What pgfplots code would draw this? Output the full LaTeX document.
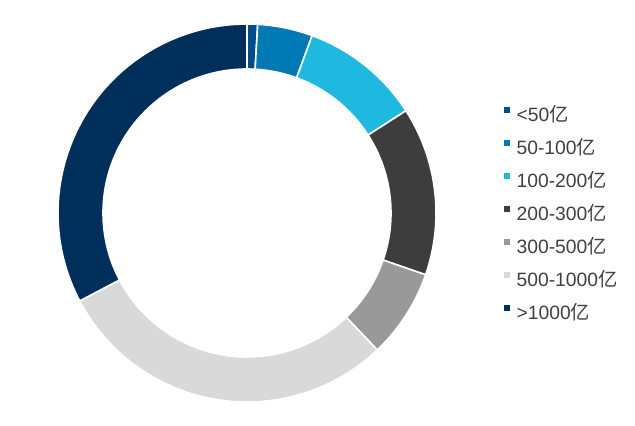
\documentclass[border=0pt]{standalone}
\usepackage{pgfplots}
\pgfplotsset{compat=1.18}
\usepackage{pgfplotstable}
\usepackage{fontspec}
\setmainfont{Liberation Sans}
\newfontfamily\cjk{Noto Sans CJK SC}

\definecolor{c0}{HTML}{004C8C}
\definecolor{c1}{HTML}{0079B4}
\definecolor{c2}{HTML}{1FB9E0}
\definecolor{c3}{HTML}{3D3D3D}
\definecolor{c4}{HTML}{999999}
\definecolor{c5}{HTML}{D9D9D9}
\definecolor{c6}{HTML}{002F5B}
\definecolor{txt}{HTML}{404040}

% share of each size class, in percent (clockwise from 12 o'clock)
\pgfplotstableread{
label value
lt50 0.9
50-100 4.7
100-200 10.3
200-300 14.4
300-500 7.6
500-1000 29.4
gt1000 32.7
}\datatable

\gdef\cum{0}
\pgfplotstableforeachcolumnelement{value}\of\datatable\as\v{%
  \pgfmathsetmacro\a{\cum*3.6}%
  \pgfmathsetmacro\newcum{\cum+\v}%
  \pgfmathsetmacro\b{\newcum*3.6}%
  \expandafter\xdef\csname segA\pgfplotstablerow\endcsname{\a}%
  \expandafter\xdef\csname segB\pgfplotstablerow\endcsname{\b}%
  \xdef\cum{\newcum}%
}

\pgfplotsset{
  sq/.style={legend image code/.code={\fill[#1] (0pt,4.0pt) rectangle (5pt,9.0pt);}},
}

\begin{document}
\begin{tikzpicture}
\useasboundingbox (0,0) rectangle (635pt,426pt);
\begin{axis}[
  at={(0,0)}, anchor=south west,
  scale only axis, width=635pt, height=426pt,
  xmin=0, xmax=635, ymin=0, ymax=426,
  hide axis, clip=false,
  legend style={at={(axis cs:504,319)}, anchor=north west, draw=none, fill=none,
    inner sep=0pt, row sep=15.3pt,
    font=\fontsize{19.3}{22}\selectfont, text=txt,
    nodes={inner sep=0pt, text height=14pt, text depth=3pt},
    /tikz/every odd column/.append style={column sep=7pt}},
  legend cell align=left,
]
\pgfplotsinvokeforeach{0,...,6}{
  \fill[fill=c#1, draw=white, line width=1.6pt]
    (axis cs:{247+189*sin(\csname segA#1\endcsname)},{213+189*cos(\csname segA#1\endcsname)})
    arc[start angle={90-\csname segA#1\endcsname}, end angle={90-\csname segB#1\endcsname}, radius=189pt]
    -- (axis cs:{247+144*sin(\csname segB#1\endcsname)},{213+144*cos(\csname segB#1\endcsname)})
    arc[start angle={90-\csname segB#1\endcsname}, end angle={90-\csname segA#1\endcsname}, radius=144pt]
    -- cycle;
}
\addlegendimage{sq=c0}\addlegendentry{<50{\cjk 亿}}
\addlegendimage{sq=c1}\addlegendentry{50-100{\cjk 亿}}
\addlegendimage{sq=c2}\addlegendentry{100-200{\cjk 亿}}
\addlegendimage{sq=c3}\addlegendentry{200-300{\cjk 亿}}
\addlegendimage{sq=c4}\addlegendentry{300-500{\cjk 亿}}
\addlegendimage{sq=c5}\addlegendentry{500-1000{\cjk 亿}}
\addlegendimage{sq=c6}\addlegendentry{>1000{\cjk 亿}}
\end{axis}
\end{tikzpicture}
\end{document}
